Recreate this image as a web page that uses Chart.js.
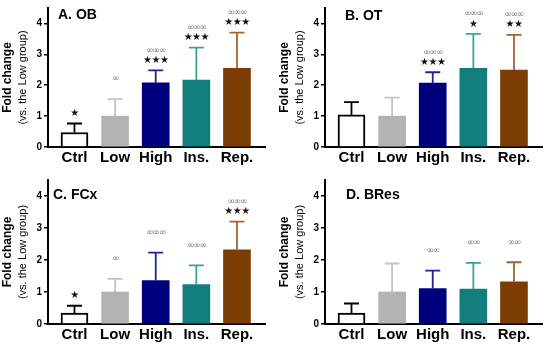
<!DOCTYPE html>
<html>
<head>
<meta charset="utf-8">
<script src="https://cdn.jsdelivr.net/npm/chart.js@4.4.1/dist/chart.umd.min.js"></script>
<style>
  html,body{margin:0;padding:0;background:#fff;}
  #wrap{position:relative;width:554px;height:344px;overflow:hidden;background:#fff;}
  .p{position:absolute;width:277px;height:172px;}
</style>
</head>
<body>
<div id="wrap">
  <div class="p" style="left:0;top:0"><canvas id="cA"></canvas></div>
  <div class="p" style="left:277px;top:0"><canvas id="cB"></canvas></div>
  <div class="p" style="left:0;top:172px"><canvas id="cC"></canvas></div>
  <div class="p" style="left:277px;top:172px"><canvas id="cD"></canvas></div>
</div>
<script>
// ---- data ----
const categories = ['Ctrl', 'Low', 'High', 'Ins.', 'Rep.'];
const yTicks = [0, 1, 2, 3, 4];

const obMean = [0.47, 1.00, 2.08, 2.17, 2.55];
const obSD   = [0.29, 0.55, 0.40, 1.05, 1.15];
const obStars = [1, 0, 3, 3, 3];
const obInf   = [0, 1, 3, 3, 3];

const otMean = [1.04, 1.00, 2.07, 2.55, 2.49];
const otSD   = [0.41, 0.60, 0.35, 1.11, 1.14];
const otStars = [0, 0, 3, 1, 2];
const otInf   = [0, 0, 3, 3, 3];

const fcxMean = [0.34, 1.00, 1.36, 1.23, 2.32];
const fcxSD   = [0.23, 0.41, 0.87, 0.60, 0.88];
const fcxStars = [1, 0, 0, 0, 3];
const fcxInf   = [0, 1, 3, 3, 3];

const bresMean = [0.34, 1.00, 1.11, 1.09, 1.32];
const bresSD   = [0.30, 0.89, 0.56, 0.82, 0.61];
const bresStars = [0, 0, 0, 0, 0];
const bresInf   = [0, 0, 2, 2, 2];

const panelTitles = ['A. OB', 'B. OT', 'C. FCx', 'D. BRes'];

// ---- styles ----
const FONT = '"Liberation Sans", Arial, Helvetica, sans-serif';
const SYM = '"DejaVu Sans", sans-serif';
const barFill = ['#ffffff', '#b3b3b3', '#00007f', '#117e7b', '#7b3d04'];
const barEdge = ['#000000', '#b3b3b3', '#00007f', '#117e7b', '#7b3d04'];
const barEdgeW = [2, 0, 0, 0, 0];
const errColor = ['#000000', '#c4c4c4', '#2222a0', '#36a2a2', '#a2652c'];

const panels = [
  { id: 'cA', title: panelTitles[0], mean: obMean, sd: obSD, stars: obStars, inf: obInf, padTop: 3, xh: 25, tx: 58, ty: 15 },
  { id: 'cB', title: panelTitles[1], mean: otMean, sd: otSD, stars: otStars, inf: otInf, padTop: 3, xh: 25, tx: 68, ty: 16 },
  { id: 'cC', title: panelTitles[2], mean: fcxMean, sd: fcxSD, stars: fcxStars, inf: fcxInf, padTop: 7, xh: 20, tx: 53, ty: 23 },
  { id: 'cD', title: panelTitles[3], mean: bresMean, sd: bresSD, stars: bresStars, inf: bresInf, padTop: 7, xh: 20, tx: 69, ty: 23 }
];

function makePlugin(p) {
  return {
    id: 'extras' + p.id,
    afterDatasetsDraw(chart) {
      const ctx = chart.ctx;
      const ys = chart.scales.y;
      const meta = chart.getDatasetMeta(0);
      ctx.save();
      meta.data.forEach((el, i) => {
        const x = el.x;
        const top = ys.getPixelForValue(p.mean[i] + p.sd[i]);
        ctx.strokeStyle = errColor[i];
        ctx.lineWidth = 1.8;
        ctx.beginPath();
        ctx.moveTo(x, el.y);
        ctx.lineTo(x, top);
        ctx.moveTo(x - 7.5, top);
        ctx.lineTo(x + 7.5, top);
        ctx.stroke();
        ctx.textAlign = 'center';
        ctx.textBaseline = 'middle';
        if (p.stars[i]) {
          ctx.fillStyle = '#111';
          ctx.font = '10px ' + SYM;
          ctx.letterSpacing = '-0.5px';
          ctx.fillText('\u2605'.repeat(p.stars[i]), x, top - 10);
        }
        if (p.inf[i]) {
          ctx.fillStyle = '#777';
          ctx.font = '9px ' + SYM;
          ctx.letterSpacing = '-1.2px';
          ctx.fillText('\u221E'.repeat(p.inf[i]), x, top - 20);
        }
        ctx.letterSpacing = '0px';
      });
      ctx.restore();
    },
    afterDraw(chart) {
      const ctx = chart.ctx;
      const ca = chart.chartArea;
      ctx.save();
      // panel title
      ctx.fillStyle = '#000';
      ctx.font = 'bold 14px ' + FONT;
      ctx.textAlign = 'left';
      ctx.textBaseline = 'middle';
      ctx.fillText(p.title, p.tx, p.ty);
      // y title
      const cy = (ca.top + ca.bottom) / 2;
      ctx.textAlign = 'center';
      ctx.textBaseline = 'middle';
      ctx.save();
      ctx.translate(8, cy);
      ctx.rotate(-Math.PI / 2);
      ctx.font = 'bold 12px ' + FONT;
      ctx.fillText('Fold change', 0, 0);
      ctx.restore();
      ctx.save();
      ctx.translate(23, cy);
      ctx.rotate(-Math.PI / 2);
      ctx.font = '11px ' + FONT;
      ctx.fillText('(vs. the Low group)', 0, 0);
      ctx.restore();
      ctx.restore();
    }
  };
}

panels.forEach(p => {
  new Chart(document.getElementById(p.id), {
    type: 'bar',
    data: {
      datasets: [{
        data: p.mean.map((v, i) => ({ x: i + 1, y: v })),
        backgroundColor: barFill,
        borderColor: barEdge,
        borderWidth: barEdgeW,
        borderSkipped: 'bottom',
        barThickness: 27
      }]
    },
    options: {
      responsive: true,
      maintainAspectRatio: false,
      animation: false,
      devicePixelRatio: 1,
      layout: { padding: { left: 0, top: p.padTop, right: 12, bottom: 0 } },
      plugins: { legend: { display: false }, tooltip: { enabled: false }, title: { display: false } },
      scales: {
        x: {
          type: 'linear',
          min: 0.348,
          max: 5.69,
          offset: false,
          afterBuildTicks: s => { s.ticks = categories.map((c, i) => ({ value: i + 1 })); },
          afterFit: s => { s.height = p.xh; },
          grid: { display: false, drawTicks: false },
          border: { display: true, color: '#000', width: 2 },
          ticks: {
            autoSkip: false, maxRotation: 0, minRotation: 0, padding: 2,
            color: '#000',
            font: { family: FONT, size: 15, weight: 'bold' },
            callback: v => categories[Math.round(v) - 1]
          }
        },
        y: {
          min: 0,
          max: 4.5,
          afterBuildTicks: s => { s.ticks = yTicks.map(v => ({ value: v })); },
          afterFit: s => { s.width = 48; },
          grid: { drawOnChartArea: false, drawTicks: true, tickLength: 4, color: '#000', lineWidth: 1.5 },
          border: { display: true, color: '#000', width: 2 },
          ticks: {
            padding: 2,
            color: '#000',
            font: { family: FONT, size: 10, weight: 'bold' },
            callback: v => String(v)
          }
        }
      }
    },
    plugins: [makePlugin(p)]
  });
});
</script>
</body>
</html>
